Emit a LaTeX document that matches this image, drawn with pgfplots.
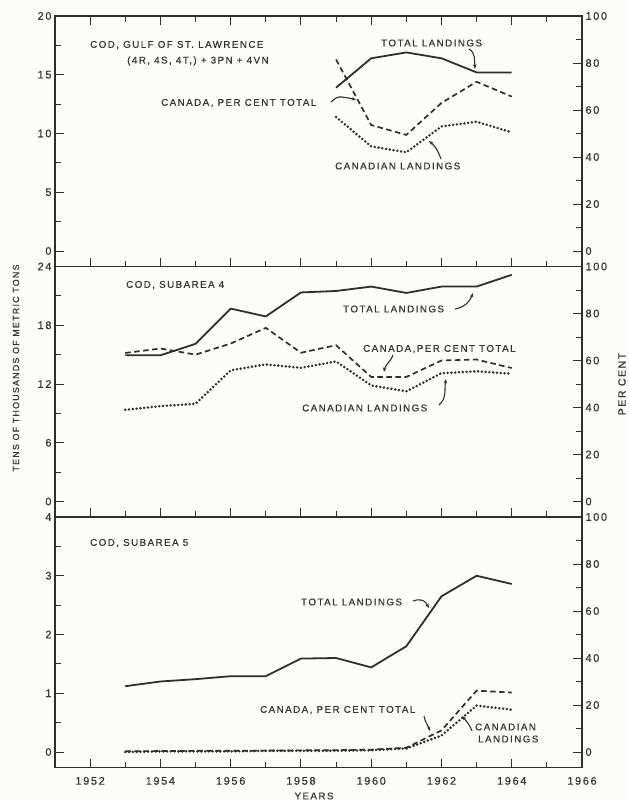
\documentclass[border=0pt]{standalone}
\usepackage{fontspec}
\setmainfont{Liberation Sans}[LetterSpace=15, FakeBold=0.5]
\usepackage{pgfplots}
\pgfplotsset{compat=1.18}
\usetikzlibrary{arrows.meta}
\definecolor{ink}{HTML}{2E2E2E}
\definecolor{txt}{HTML}{333333}
\definecolor{paper}{HTML}{FCFCFA}
\newcommand{\lf}{\fontsize{9.8}{11}\selectfont}
\newcommand{\tf}{\fontsize{11}{13}\selectfont}

\pgfplotsset{
  base/.style={scale only axis, width=527bp, height=250.5bp,
    xmin=1951, xmax=1966,
    xtick={1952,1954,...,1966}, minor xtick={1953,1955,...,1965},
    major tick length=9bp, minor tick length=6bp,
    every tick/.style={ink, line width=0.9pt},
    axis line style={ink, line width=1.1pt},
    /pgf/number format/assume math mode=true,
    /pgf/number format/1000 sep={},
    tick label style={font=\tf, text=txt},
    xticklabel style={yshift=-6bp},
    clip=false},
  leftax/.style={base, ytick pos=left},
  rightax/.style={base, axis y line*=right, axis x line=none,
    ymin=-6.6, ymax=100, ytick={0,20,...,100}, minor ytick={10,30,...,90}},
  tot/.style={ink, line width=1.8pt, line join=round, mark=none},
  pct/.style={ink, line width=1.7pt, dash pattern=on 5.5bp off 3.5bp, mark=none},
  can/.style={ink, line width=2.8pt, line cap=round, dash pattern=on 0pt off 3.8bp, mark=none},
}
\tikzset{lead/.style={ink, line width=1.1pt, -{Stealth[length=4.5bp,width=3.5bp]}}}

\begin{document}
\begin{tikzpicture}
\fill[paper] (0,0) rectangle (629bp,-800bp);

% ---------- Panel 1 ----------
\begin{axis}[leftax, at={(55bp,-16bp)}, anchor=north west,
  ymin=-1.32, ymax=20, ytick={0,5,...,20}, minor ytick={2.5,7.5,12.5,17.5},
  xticklabels={}]
\addplot[tot] coordinates {(1959,13.9) (1960,16.4) (1961,16.9) (1962,16.4) (1963,15.2) (1964,15.2)};
\addplot[can] coordinates {(1959,11.4) (1960,8.9) (1961,8.4) (1962,10.6) (1963,11.0) (1964,10.1)};
\end{axis}
\begin{axis}[rightax, at={(55bp,-16bp)}, anchor=north west]
\addplot[pct] coordinates {(1959,81.5) (1960,53.6) (1961,49.4) (1962,63) (1963,72) (1964,65.7)};
\end{axis}

% ---------- Panel 2 ----------
\begin{axis}[leftax, at={(55bp,-266.5bp)}, anchor=north west, xtick pos=bottom,
  ymin=-1.584, ymax=24, ytick={0,6,...,24}, minor ytick={3,9,15,21},
  xticklabels={}]
\addplot[tot] coordinates {(1953,14.93) (1954,14.93) (1955,16.1) (1956,19.7) (1957,18.9) (1958,21.35) (1959,21.5) (1960,21.95) (1961,21.3) (1962,21.95) (1963,21.95) (1964,23.15)};
\addplot[can] coordinates {(1953,9.36) (1954,9.74) (1955,9.98) (1956,13.4) (1957,14.0) (1958,13.65) (1959,14.3) (1960,11.85) (1961,11.25) (1962,13.1) (1963,13.3) (1964,13.05)};
\end{axis}
\begin{axis}[rightax, at={(55bp,-266.5bp)}, anchor=north west]
\addplot[pct] coordinates {(1953,63.2) (1954,65.1) (1955,62.5) (1956,67.2) (1957,73.9) (1958,63.3) (1959,66.5) (1960,53) (1961,53) (1962,60) (1963,60.4) (1964,56.8)};
\end{axis}

% ---------- Panel 3 ----------
\begin{axis}[leftax, at={(55bp,-517bp)}, anchor=north west, xtick pos=bottom,
  ymin=-0.264, ymax=4, ytick={0,1,...,4}, minor ytick={0.5,1.5,2.5,3.5}]
\addplot[tot] coordinates {(1953,1.12) (1954,1.2) (1955,1.24) (1956,1.29) (1957,1.29) (1958,1.59) (1959,1.6) (1960,1.44) (1961,1.8) (1962,2.65) (1963,3.0) (1964,2.86)};
\addplot[can] coordinates {(1953,0.0) (1954,0.01) (1955,0.01) (1956,0.01) (1957,0.02) (1958,0.02) (1959,0.02) (1960,0.03) (1961,0.06) (1962,0.28) (1963,0.79) (1964,0.72)};
\end{axis}
\begin{axis}[rightax, at={(55bp,-517bp)}, anchor=north west]
\addplot[pct] coordinates {(1953,0.3) (1954,0.4) (1955,0.5) (1956,0.5) (1957,0.6) (1958,0.7) (1959,0.8) (1960,1.0) (1961,1.8) (1962,9.2) (1963,26.1) (1964,25.3)};
\end{axis}

% ---------- axis titles ----------
\node[rotate=90, font=\fontsize{8.8}{10}\selectfont, text=txt] at (16bp,-368bp) {TENS OF THOUSANDS OF METRIC TONS};
\node[rotate=90, font=\fontsize{10.5}{12}\selectfont, text=txt] at (622bp,-384bp) {PER CENT};
\node[font=\lf, text=txt] at (314bp,-796bp) {YEARS};

% ---------- annotations ----------
\begin{scope}[every node/.style={font=\lf, text=txt, inner sep=0pt}]
% panel 1
\node[anchor=west] at (90bp,-45bp) {COD, GULF OF ST. LAWRENCE};
\node[anchor=west] at (127bp,-61bp) {(4R, 4S, 4T,) + 3PN + 4VN};
\node[anchor=west] at (381bp,-43bp) {TOTAL LANDINGS};
\draw[lead] (469bp,-49bp) to[out=-30,in=95] (475bp,-69bp);
\node[anchor=west] at (161bp,-103bp) {CANADA, PER CENT TOTAL};
\draw[lead] (331bp,-102bp) to[out=40,in=170] (342bp,-97bp) to[out=-10,in=160] (356bp,-100bp);
\node[anchor=west] at (335bp,-166bp) {CANADIAN LANDINGS};
\draw[lead] (441bp,-159bp) to[out=110,in=-40] (429bp,-141bp);
% panel 2
\node[anchor=west] at (126bp,-285bp) {COD, SUBAREA 4};
\node[anchor=west] at (343bp,-309bp) {TOTAL LANDINGS};
\draw[lead] (455bp,-309bp) to[out=10,in=-110] (473bp,-293bp);
\node[anchor=west] at (363bp,-349bp) {CANADA,PER CENT TOTAL};
\draw[lead] (393bp,-355bp) to[out=-110,in=80] (384bp,-372bp);
\node[anchor=west] at (302bp,-408bp) {CANADIAN LANDINGS};
\draw[lead] (439bp,-405bp) to[out=40,in=-100] (446bp,-379bp);
% panel 3
\node[anchor=west] at (90bp,-543bp) {COD, SUBAREA 5};
\node[anchor=west] at (301bp,-602bp) {TOTAL LANDINGS};
\draw[lead] (413bp,-601bp) to[out=20,in=170] (421bp,-600bp) to[out=-10,in=120] (429bp,-608bp);
\node[anchor=west] at (260bp,-710bp) {CANADA, PER CENT TOTAL};
\draw[lead] (424bp,-716bp) to[out=-80,in=110] (430bp,-731bp);
\node[anchor=west] at (475bp,-727bp) {CANADIAN};
\node[anchor=west] at (478bp,-739bp) {LANDINGS};
\draw[lead] (472bp,-731bp) to[out=110,in=-50] (462bp,-716bp);
\end{scope}

\pgfresetboundingbox
\useasboundingbox (0,0) rectangle (629bp,-800bp);
\end{tikzpicture}
\end{document}
